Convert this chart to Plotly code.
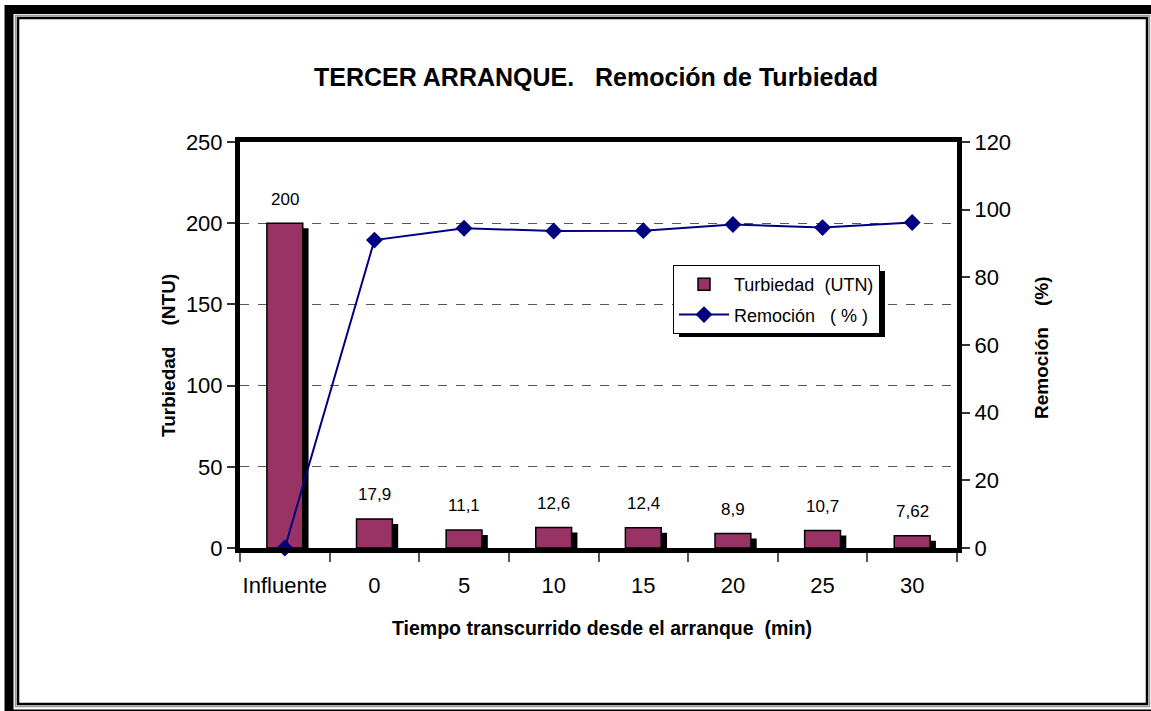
import plotly.graph_objects as go

# ---- data ----
categories = ["Influente", "0", "5", "10", "15", "20", "25", "30"]
turbiedad = [200, 17.9, 11.1, 12.6, 12.4, 8.9, 10.7, 7.62]
turbiedad_labels = ["200", "17,9", "11,1", "12,6", "12,4", "8,9", "10,7", "7,62"]
remocion = [0, 91.0, 94.5, 93.7, 93.8, 95.6, 94.7, 96.2]

left_ticks = [0, 50, 100, 150, 200, 250]
right_ticks = [0, 20, 40, 60, 80, 100, 120]

FONT = "Liberation Sans, Arial, sans-serif"
W, H = 1151, 711
PL, PR, PT, PB = 240, 957, 142, 548  # plot area in pixels


def px(x):
    return (x - PL) / (PR - PL)


def py(y):
    return (PB - y) / (PB - PT)


Y_MAX = 250
shadow_units = 5 * Y_MAX / (PB - PT)  # shadow drop ~5px

fig = go.Figure()

# bar shadows
fig.add_trace(go.Bar(
    x=categories, y=[max(v - shadow_units, 0) for v in turbiedad],
    width=0.4, offset=-0.2 + 0.065,
    marker=dict(color="black", line=dict(width=0)),
    showlegend=False, hoverinfo="skip",
))
# bars
fig.add_trace(go.Bar(
    x=categories, y=turbiedad, name="Turbiedad  (UTN)", legendgroup="a",
    width=0.4, offset=-0.2,
    marker=dict(color="#993366", line=dict(color="black", width=1.5)),
))
# removal line
fig.add_trace(go.Scatter(
    x=categories, y=remocion, name="Remoción   ( % )", yaxis="y2", legendgroup="b",
    mode="lines+markers", cliponaxis=False,
    line=dict(color="#000080", width=2),
    marker=dict(symbol="diamond", size=13, color="#000080"),
))

annotations = []
for i, (v, t) in enumerate(zip(turbiedad, turbiedad_labels)):
    annotations.append(dict(x=i, y=v, xref="x", yref="y", text=t, showarrow=False,
                            yshift=24, font=dict(size=17, color="black", family=FONT)))

ann_common = dict(xref="paper", yref="paper", showarrow=False, xanchor="center", yanchor="middle")
annotations += [
    dict(x=px(596), y=py(77), text="<b>TERCER ARRANQUE.   Remoción de Turbiedad</b>",
         font=dict(size=25, color="black", family=FONT), **ann_common),
    dict(x=px(602), y=py(628), text="<b>Tiempo transcurrido desde el arranque  (min)</b>",
         font=dict(size=19.5, color="black", family=FONT), **ann_common),
    dict(x=px(168), y=py(356), textangle=-90, text="<b>Turbiedad    (NTU)</b>",
         font=dict(size=19, color="black", family=FONT), **ann_common),
    dict(x=px(1041), y=py(348), textangle=-90, text="<b>Remoción    (%)</b>",
         font=dict(size=19, color="black", family=FONT), **ann_common),
]

shapes = [
    # outer thick frame
    dict(type="rect", xref="paper", yref="paper", x0=px(9), x1=px(1160), y0=py(9.5), y1=py(714),
         line=dict(color="black", width=9), fillcolor="rgba(0,0,0,0)", layer="below"),
    # gray inner line
    dict(type="rect", xref="paper", yref="paper", x0=px(15.5), x1=px(1149.5), y0=py(15.5), y1=py(706.5),
         line=dict(color="#9a9a9a", width=1.5), fillcolor="rgba(0,0,0,0)", layer="below"),
    # inner thin frame
    dict(type="rect", xref="paper", yref="paper", x0=px(18), x1=px(1147), y0=py(18), y1=py(704),
         line=dict(color="black", width=2.5), fillcolor="rgba(0,0,0,0)", layer="below"),
    # legend shadow
    dict(type="rect", xref="paper", yref="paper", x0=px(679), x1=px(885), y0=py(271), y1=py(337),
         line=dict(width=0), fillcolor="black", layer="above"),
]

fig.update_layout(
    width=W, height=H,
    margin=dict(l=PL, r=W - PR, t=PT, b=H - PB, pad=0),
    paper_bgcolor="white", plot_bgcolor="white",
    font=dict(family=FONT, color="black", size=22),
    barmode="overlay",
    showlegend=True,
    legend=dict(x=px(673), y=py(265), xanchor="left", yanchor="top",
                bgcolor="white", bordercolor="black", borderwidth=1,
                font=dict(size=18, family=FONT, color="black"),
                tracegroupgap=4, itemwidth=50),
    xaxis=dict(
        type="category", range=[-0.5, 7.5],
        showline=True, linecolor="black", linewidth=5, mirror=True,
        ticks="outside", ticklen=9, tickcolor="#555", tickwidth=1.5,
        tickson="boundaries", ticklabelstandoff=14, tickangle=0,
        tickfont=dict(size=22), showgrid=False, zeroline=False,
    ),
    yaxis=dict(
        range=[0, 250], tickvals=left_ticks,
        showline=True, linecolor="black", linewidth=5, mirror=True,
        ticks="outside", ticklen=8, tickcolor="#333", tickwidth=1.5,
        tickfont=dict(size=22),
        showgrid=True, gridcolor="#555", griddash="dash", gridwidth=1,
        zeroline=False,
    ),
    yaxis2=dict(
        range=[0, 120], tickvals=right_ticks, overlaying="y", side="right",
        showline=True, linecolor="black", linewidth=5,
        ticks="outside", ticklen=8, tickcolor="#333", tickwidth=1.5,
        tickfont=dict(size=22), showgrid=False, zeroline=False,
    ),
    annotations=annotations,
    shapes=shapes,
)

fig.write_html("out.html", config={"displayModeBar": False},
               post_script="document.body.style.margin='0';")
